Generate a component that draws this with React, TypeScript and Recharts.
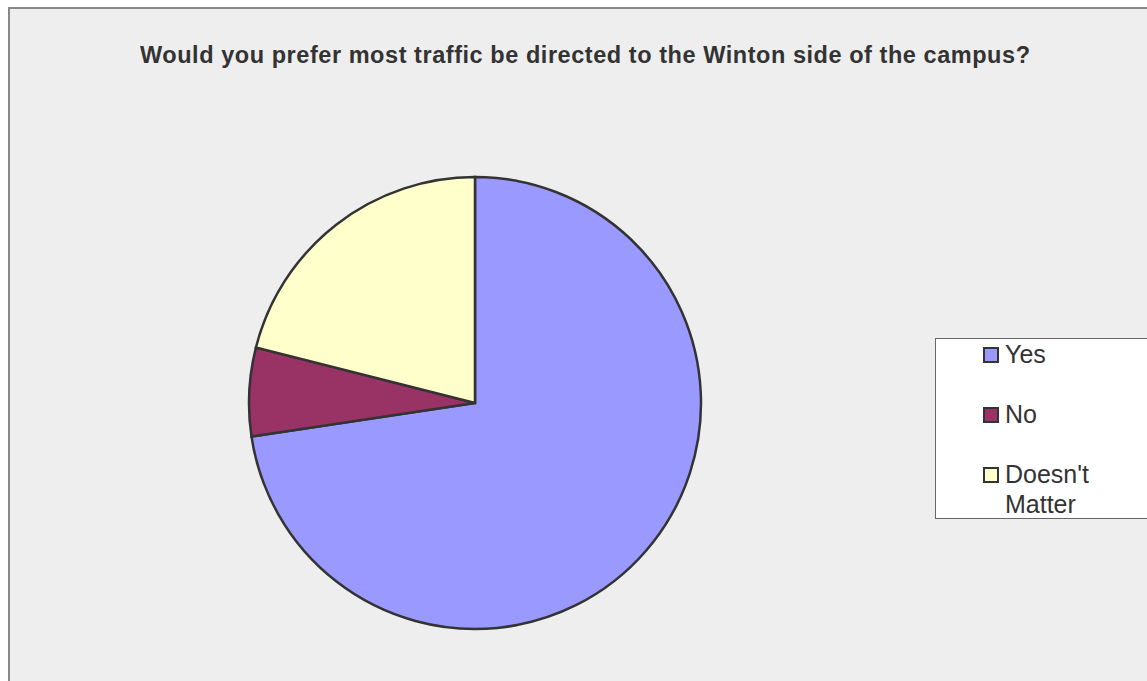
import React from 'react';
import { PieChart, Pie, Cell, Legend } from 'recharts';

// Survey answers (counts)
const answers = ['Yes', 'No', "Doesn't Matter"];
const counts = [69, 6, 20];
const sliceColors = ['#9999FF', '#993366', '#FFFFCC'];

const pieData = answers.map((name, i) => ({ name, value: counts[i] }));

const TITLE = 'Would you prefer most traffic be directed to the Winton side of the campus?';

// Legend box like the spreadsheet export, in data order
const LegendBox = () => (
  <div
    style={{
      background: '#fff',
      border: '1px solid #666',
      borderRight: 'none',
      width: 230,
      height: 181,
      boxSizing: 'border-box',
      fontFamily: '"Liberation Sans", Arial, sans-serif',
      fontSize: 25,
      color: '#333',
      position: 'relative',
    }}
  >
    {answers.map((name, i) => (
      <div
        key={`leg-${i}`}
        style={{ position: 'absolute', left: 47, top: 0 + i * 60, display: 'flex', lineHeight: '30px' }}
      >
        <div
          style={{
            width: 12,
            height: 12,
            marginTop: 8,
            marginRight: 6,
            border: '2px solid #333',
            background: sliceColors[i],
            flex: 'none',
          }}
        />
        <div style={{ width: 110 }}>{name}</div>
      </div>
    ))}
  </div>
);

export default function App() {
  return (
    <div
      style={{
        position: 'fixed',
        left: 8,
        top: 7,
        width: 1160,
        height: 690,
        background: '#EEEEEE',
        borderLeft: '2px solid #888',
        borderTop: '2px solid #888',
        boxSizing: 'border-box',
        overflow: 'hidden',
      }}
    >
      <PieChart width={1158} height={688} margin={{ top: 0, right: 0, bottom: 0, left: 0 }}>
        <text
          x={130}
          y={54}
          textLength={890}
          lengthAdjust="spacing"
          style={{
            fontFamily: '"Liberation Sans", Arial, sans-serif',
            fontSize: 23.5,
            fontWeight: 'bold',
            fill: '#333',
          }}
        >
          {TITLE}
        </text>
        <Pie
          data={pieData}
          dataKey="value"
          nameKey="name"
          cx={465}
          cy={394}
          outerRadius={226}
          startAngle={90}
          endAngle={-270}
          stroke="#333"
          strokeWidth={2.5}
          isAnimationActive={false}
        >
          {pieData.map((d, i) => (
            <Cell key={d.name} fill={sliceColors[i]} />
          ))}
        </Pie>
        <Legend
          content={<LegendBox />}
          layout="vertical"
          wrapperStyle={{ position: 'absolute', left: 925, top: 329, width: 230, height: 181 }}
        />
      </PieChart>
    </div>
  );
}
